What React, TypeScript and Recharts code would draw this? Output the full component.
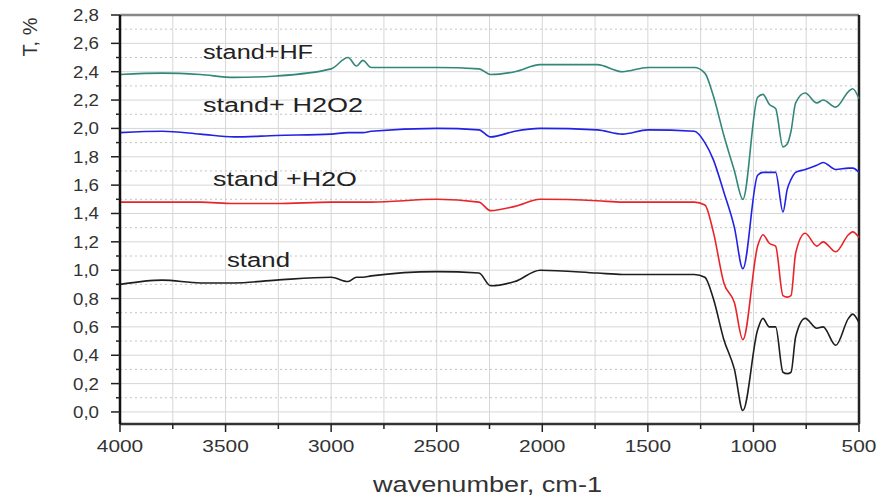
import { LineChart, Line, XAxis, YAxis, CartesianGrid, ReferenceLine } from "recharts";

// wavenumber grid (cm-1)
const wavenumbers = [
  4000, 3800, 3620, 3460, 3260, 3000, 2920, 2880, 2850, 2810, 2500, 2300, 2245, 2130, 2010, 1740, 1620, 1500,
  1280, 1230, 1190, 1140, 1090, 1050, 980, 955, 925, 895, 860, 840, 822, 800, 755, 700, 670, 610, 550, 530, 500,
];

const standHF = [
  2.38, 2.39, 2.38, 2.36, 2.37, 2.42, 2.5, 2.44, 2.48, 2.43, 2.43, 2.42, 2.38, 2.4, 2.45, 2.45, 2.4, 2.43,
  2.43, 2.39, 2.23, 1.95, 1.7, 1.5, 2.22, 2.24, 2.17, 2.14, 1.87, 1.89, 1.98, 2.18, 2.25, 2.18, 2.2, 2.15, 2.26, 2.28, 2.21,
];
const standH2O2 = [
  1.97, 1.98, 1.96, 1.94, 1.95, 1.96, 1.97, 1.97, 1.97, 1.98, 2.0, 1.99, 1.94, 1.98, 2.0, 1.99, 1.96, 1.99,
  1.98, 1.9, 1.78, 1.55, 1.3, 1.01, 1.67, 1.69, 1.69, 1.69, 1.41, 1.57, 1.64, 1.69, 1.71, 1.74, 1.76, 1.71, 1.72, 1.72, 1.69,
];
const standH2O = [
  1.48, 1.48, 1.48, 1.47, 1.47, 1.48, 1.48, 1.48, 1.48, 1.48, 1.5, 1.48, 1.42, 1.45, 1.5, 1.49, 1.48, 1.48,
  1.48, 1.46, 1.27, 0.91, 0.77, 0.51, 1.17, 1.25, 1.19, 1.17, 0.82, 0.81, 0.82, 1.12, 1.26, 1.17, 1.2, 1.13, 1.25, 1.27, 1.23,
];
const stand = [
  0.9, 0.93, 0.91, 0.91, 0.93, 0.95, 0.92, 0.95, 0.95, 0.96, 0.99, 0.98, 0.89, 0.92, 1.0, 0.98, 0.97, 0.97,
  0.97, 0.95, 0.8, 0.51, 0.3, 0.01, 0.58, 0.66, 0.6, 0.6, 0.28, 0.27, 0.28, 0.53, 0.66, 0.59, 0.6, 0.47, 0.66, 0.69, 0.63,
];

const xTicks = [500, 750, 1000, 1250, 1500, 1750, 2000, 2250, 2500, 2750, 3000, 3250, 3500, 3750, 4000];
const yTicks = [
  0, 0.1, 0.2, 0.3, 0.4, 0.5, 0.6, 0.7, 0.8, 0.9, 1.0, 1.1, 1.2, 1.3, 1.4, 1.5, 1.6, 1.7, 1.8, 1.9, 2.0,
  2.1, 2.2, 2.3, 2.4, 2.5, 2.6, 2.7, 2.8,
];
const yMajor = yTicks.filter((v) => Math.round(v * 10) % 2 === 0);
const yMinor = yTicks.filter((v) => Math.round(v * 10) % 2 === 1);

const data = wavenumbers.map((wn, i) => ({
  wn,
  hf: standHF[i],
  h2o2: standH2O2[i],
  h2o: standH2O[i],
  stand: stand[i],
}));

const FONT = "'Liberation Sans', Arial, sans-serif";

const YTick = (props: any) => {
  const { x, y, payload } = props;
  const v = payload.value;
  const major = Math.round(v * 10) % 2 === 0;
  return (
    <g>
      <line x1={x - (major ? 9 : 4)} x2={x} y1={y} y2={y} stroke="#222" strokeWidth={1.5} />
      {major && (
        <text x={x - 21} y={y + 6} textAnchor="end" fontSize={17} fill="#333" fontFamily={FONT}
          textLength={26} lengthAdjust="spacingAndGlyphs">
          {v.toFixed(1).replace(".", ",")}
        </text>
      )}
    </g>
  );
};

const XTick = (props: any) => {
  const { x, y, payload } = props;
  const v = payload.value;
  const major = v % 500 === 0;
  const label = String(v);
  return (
    <g>
      <line x1={x} x2={x} y1={y} y2={y + (major ? 8 : 5)} stroke="#222" strokeWidth={1.5} />
      {major && (
        <text x={x} y={y + 28} textAnchor="middle" fontSize={17} fill="#333" fontFamily={FONT}
          textLength={label.length * 11.6} lengthAdjust="spacingAndGlyphs">
          {label}
        </text>
      )}
    </g>
  );
};

const labels = [
  { text: "stand+HF", x: 203, y: 59, w: 110 },
  { text: "stand+ H2O2", x: 203, y: 112, w: 160 },
  { text: "stand +H2O", x: 213, y: 186, w: 144 },
  { text: "stand", x: 227, y: 267, w: 63 },
];

export default function App() {
  return (
    <div style={{ position: "absolute", left: 0, top: 0, width: 887, height: 496, background: "#fff" }}>
      <LineChart width={887} height={496} data={data} margin={{ top: 15, right: 28, left: 0, bottom: 0 }}>
        <CartesianGrid stroke="#d6d6d6" strokeWidth={1} horizontalValues={yMajor} verticalValues={xTicks} />
        <CartesianGrid stroke="#c4c4c4" strokeDasharray="2 3" vertical={false} horizontalValues={yMinor} />
        <XAxis
          dataKey="wn"
          type="number"
          domain={[500, 4000]}
          reversed
          ticks={xTicks}
          interval={0}
          height={72}
          tickSize={0}
          tickMargin={0}
          tickLine={false}
          tick={<XTick />}
          axisLine={{ stroke: "#333", strokeWidth: 2.5 }}
        />
        <YAxis
          type="number"
          domain={[-0.085, 2.8]}
          allowDataOverflow
          ticks={yTicks}
          interval={0}
          width={120}
          tickSize={0}
          tickMargin={0}
          tickLine={false}
          tick={<YTick />}
          axisLine={{ stroke: "#111", strokeWidth: 2.5 }}
        />
        <ReferenceLine y={2.8} stroke="#888" strokeWidth={2.5} />
        <ReferenceLine x={500} stroke="#222" strokeWidth={2.5} />
        <Line type="monotone" dataKey="stand" stroke="#1e1e1e" strokeWidth={1.6} dot={false} isAnimationActive={false} />
        <Line type="monotone" dataKey="h2o" stroke="#e8242a" strokeWidth={1.6} dot={false} isAnimationActive={false} />
        <Line type="monotone" dataKey="h2o2" stroke="#2222e6" strokeWidth={1.6} dot={false} isAnimationActive={false} />
        <Line type="monotone" dataKey="hf" stroke="#33877a" strokeWidth={1.6} dot={false} isAnimationActive={false} />
      </LineChart>
      <svg width={887} height={496} style={{ position: "absolute", left: 0, top: 0, pointerEvents: "none" }}>
        <text transform="translate(37,37) rotate(-90)" textAnchor="middle" fontSize={20} fill="#333" fontFamily={FONT}>
          T, %
        </text>
        {labels.map((l) => (
          <text key={l.text} x={l.x} y={l.y} fontSize={20} fill="#222" fontFamily={FONT}
            textLength={l.w} lengthAdjust="spacingAndGlyphs">
            {l.text}
          </text>
        ))}
        <text x={373} y={492} fontSize={22} fill="#333" fontFamily={FONT} textLength={229} lengthAdjust="spacingAndGlyphs">
          wavenumber, cm-1
        </text>
      </svg>
    </div>
  );
}
